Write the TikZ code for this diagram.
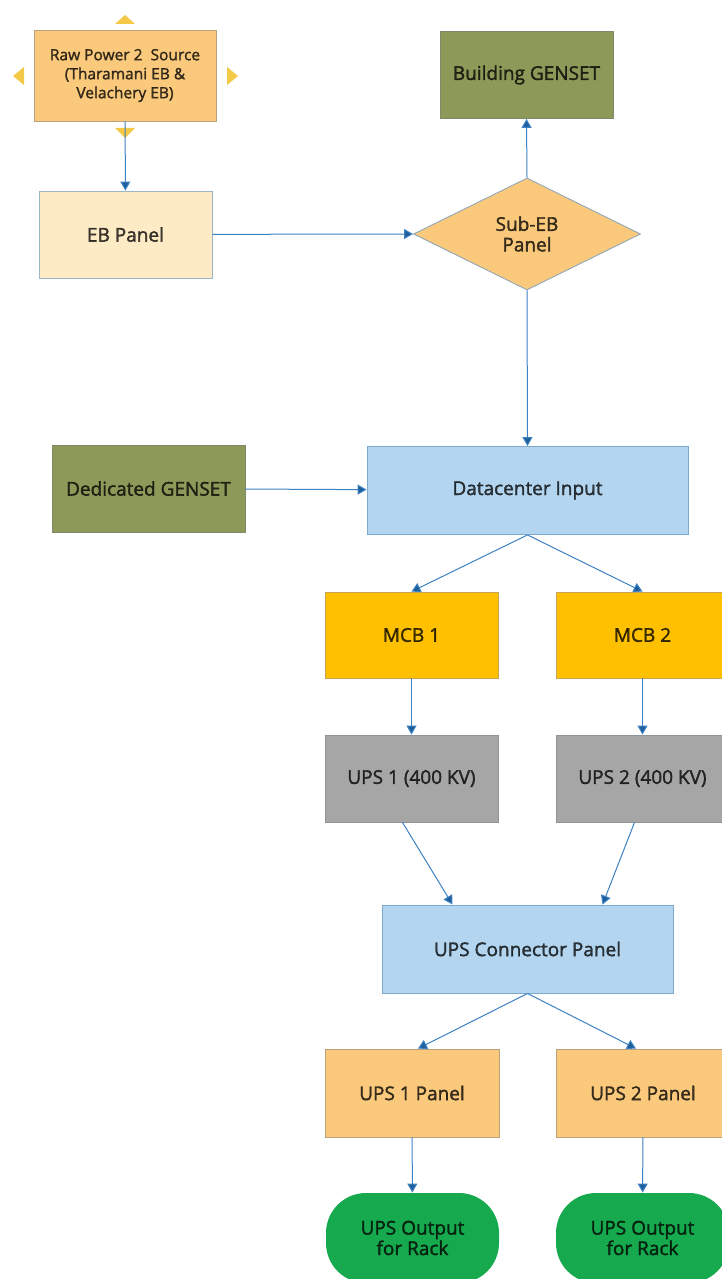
\documentclass[tikz,border=0pt]{standalone}
\usepackage{fontspec}
\setmainfont{Open Sans}[FakeBold=1.6]
\usetikzlibrary{shapes.geometric,arrows.meta,calc}
\definecolor{lnblue}{HTML}{3D82C4}
\definecolor{tipblue}{HTML}{1F5E9A}
\definecolor{orangef}{HTML}{FAC97C}
\definecolor{orangeb}{HTML}{B9A27E}
\definecolor{creamf}{HTML}{FDEBC6}
\definecolor{creamb}{HTML}{9CB5C6}
\definecolor{olivef}{HTML}{8D9958}
\definecolor{oliveb}{HTML}{7E8A6A}
\definecolor{bluef}{HTML}{B3D5EF}
\definecolor{blueb}{HTML}{7EA9CF}
\definecolor{amberf}{HTML}{FFC000}
\definecolor{amberb}{HTML}{C9A45A}
\definecolor{grayf}{HTML}{A6A6A6}
\definecolor{grayb}{HTML}{8E9499}
\definecolor{greenf}{HTML}{17A94E}
\definecolor{handle}{HTML}{F4C948}
\tikzset{
  base/.style={draw, line width=0.9pt, inner sep=0pt, align=center, text=black, text opacity=0.75,
    font=\fontsize{19}{20.5}\selectfont},
  rawbox/.style={base, fill=orangef, draw=orangeb, minimum width=182pt, minimum height=91pt,
    font=\fontsize{15.5}{19}\selectfont},
  ebbox/.style={base, fill=creamf, draw=creamb, minimum width=173pt, minimum height=87pt},
  genbox/.style={base, fill=olivef, draw=oliveb, minimum height=87pt},
  bluebox/.style={base, fill=bluef, draw=blueb, minimum height=88pt},
  mcbbox/.style={base, fill=amberf, draw=amberb, minimum width=173pt, minimum height=86pt},
  upsbox/.style={base, fill=grayf, draw=grayb, minimum width=173pt, minimum height=87pt},
  panelbox/.style={base, fill=orangef, draw=orangeb, minimum width=174pt, minimum height=88pt},
  subeb/.style={base, diamond, fill=orangef, draw=blueb!70!orangeb, minimum width=227pt, minimum height=112pt},
  outbox/.style={base, draw=none, fill=greenf, rounded corners=40pt, minimum width=173pt, minimum height=90pt},
  conn/.style={draw=lnblue, line width=1pt, -{Triangle[width=10pt,length=9pt,fill=tipblue]}},
  hnd/.style={fill=handle, draw=none}
}
\begin{document}
\begin{tikzpicture}[x=1pt,y=-1pt]
\useasboundingbox (0,0) rectangle (721,1279);
\fill[white] (0,0) rectangle (721,1279);

% handles around the raw power box
\fill[hnd] (125,15) -- (135,24) -- (115,24) -- cycle;
\fill[hnd] (13,76) -- (24,67) -- (24,85) -- cycle;
\fill[hnd] (238,76) -- (227,67) -- (227,85) -- cycle;
\fill[hnd] (125,138) -- (135,128) -- (115,128) -- cycle;

\node[rawbox] (raw) at (125,75.5) {Raw Power 2\ \ Source\\(Tharamani EB \&\\Velachery EB)};
\node[ebbox] (eb) at (125.5,234.5) {EB Panel};
\node[genbox, minimum width=173pt] (bgen) at (526.5,75) {Building GENSET};
\node[subeb] (sub) at (527,234) {Sub-EB\\Panel};
\node[genbox, minimum width=193pt] (dgen) at (148.5,488.5) {Dedicated GENSET};
\node[bluebox, minimum width=321pt] (dc) at (527.5,490.5) {Datacenter Input};
\node[mcbbox] (m1) at (411.5,635) {MCB 1};
\node[mcbbox] (m2) at (642.5,635) {MCB 2};
\node[upsbox] (u1) at (411.5,778.5) {UPS 1 (400 KV)};
\node[upsbox] (u2) at (642.5,778.5) {UPS 2 (400 KV)};
\node[bluebox, minimum width=291pt] (cp) at (527.5,949) {UPS Connector Panel};
\node[panelbox] (p1) at (412,1093) {UPS 1 Panel};
\node[panelbox] (p2) at (643,1093) {UPS 2 Panel};
\node[outbox] (o1) at (412.5,1238) {UPS Output\\for Rack};
\node[outbox] (o2) at (642.5,1238) {UPS Output\\for Rack};

\draw[conn] (raw) -- (eb);
\draw[conn] (eb) -- (sub.west);
\draw[conn] (sub.north) -- (bgen.south);
\draw[conn] (sub.south) -- (dc.north);
\draw[conn] (dgen) -- (dc);
\draw[conn] (dc.south) -- (m1.north);
\draw[conn] (dc.south) -- (m2.north);
\draw[conn] (m1) -- (u1);
\draw[conn] (m2) -- (u2);
\draw[conn] ($(u1.south)+(-9,0)$) -- ($(cp.north)+(-75,0)$);
\draw[conn] ($(u2.south)+(-8,0)$) -- ($(cp.north)+(75,0)$);
\draw[conn] (cp.south) -- ($(p1.north)+(6,0)$);
\draw[conn] (cp.south) -- ($(p2.north)+(-7,0)$);
\draw[conn] (p1) -- (o1);
\draw[conn] (p2) -- (o2);
\end{tikzpicture}
\end{document}
